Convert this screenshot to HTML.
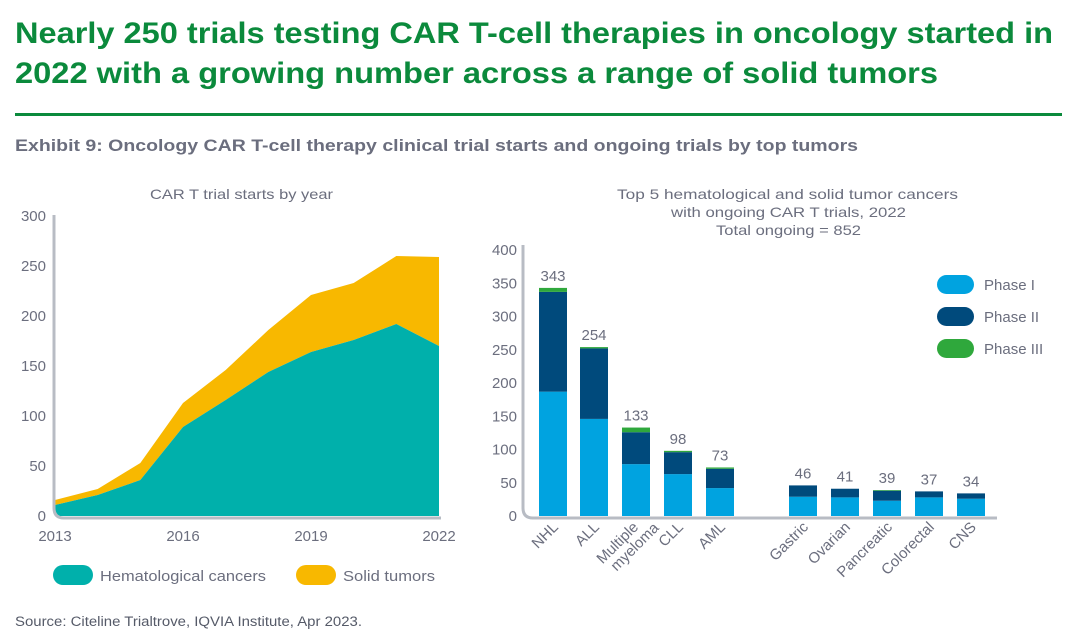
<!DOCTYPE html>
<html><head><meta charset="utf-8"><style>
html,body{margin:0;padding:0;background:#fff;}
svg{display:block;font-family:"Liberation Sans",sans-serif;}
</style></head><body>
<svg id="c" width="1080" height="635" viewBox="0 0 1080 635" xmlns="http://www.w3.org/2000/svg">
<text x="15" y="43" font-size="30" font-weight="bold" fill="#0b8a3c" textLength="1038" lengthAdjust="spacingAndGlyphs">Nearly 250 trials testing CAR T-cell therapies in oncology started in</text>
<text x="15" y="83" font-size="30" font-weight="bold" fill="#0b8a3c" textLength="923" lengthAdjust="spacingAndGlyphs">2022 with a growing number across a range of solid tumors</text>
<rect x="15" y="113" width="1047" height="3" fill="#0b8a3c"/>
<text x="15" y="151" font-size="16.5" font-weight="bold" fill="#6b6e7e" textLength="843" lengthAdjust="spacingAndGlyphs">Exhibit 9: Oncology CAR T-cell therapy clinical trial starts and ongoing trials by top tumors</text>
<text x="150" y="199" font-size="14" fill="#6b6e7e" textLength="183" lengthAdjust="spacingAndGlyphs">CAR T trial starts by year</text>
<text x="617" y="199" font-size="14" fill="#6b6e7e" textLength="341" lengthAdjust="spacingAndGlyphs">Top 5 hematological and solid tumor cancers</text>
<text x="671" y="217" font-size="14" fill="#6b6e7e" textLength="235" lengthAdjust="spacingAndGlyphs">with ongoing CAR T trials, 2022</text>
<text x="716" y="235" font-size="14" fill="#6b6e7e" textLength="145" lengthAdjust="spacingAndGlyphs">Total ongoing = 852</text>
<g id="left"></g>
<g id="right"></g>
<rect x="53" y="565" width="40" height="20" rx="10" fill="#00b0ab"/>
<text x="100" y="581" font-size="15" fill="#6b6e7e" textLength="166" lengthAdjust="spacingAndGlyphs">Hematological cancers</text>
<rect x="296" y="565" width="40" height="20" rx="10" fill="#f8b800"/>
<text x="343" y="581" font-size="15" fill="#6b6e7e" textLength="92" lengthAdjust="spacingAndGlyphs">Solid tumors</text>
<text x="15" y="626" font-size="13.5" fill="#555a68" textLength="347" lengthAdjust="spacingAndGlyphs">Source: Citeline Trialtrove, IQVIA Institute, Apr 2023.</text>
</svg>
<script>
const years = [2013,2014,2015,2016,2017,2018,2019,2020,2021,2022];
const hemaValues = [11,21,36,89,116,144,164,176,192,170];
const solidValues = [5,6,17,24,30,42,57,57,68,89];
const leftYTicks = [0,50,100,150,200,250,300];
const leftXTicks = [2013,2016,2019,2022];

const cats = ["NHL","ALL","Multiple|myeloma","CLL","AML","Gastric","Ovarian","Pancreatic","Colorectal","CNS"];
const phase1 = [187,146,78,63,42,29,28,23,28,26];
const phase2 = [150,106,48,33,29,17,13,15,9,8];
const phase3 = [6,2,7,2,2,0,0,1,0,0];
const totals = [343,254,133,98,73,46,41,39,37,34];
const rightYTicks = [0,50,100,150,200,250,300,350,400];

const NS="http://www.w3.org/2000/svg";
function mk(tag, attrs, parent, txt){const e=document.createElementNS(NS,tag);for(const k in attrs)e.setAttribute(k,attrs[k]);if(txt!==undefined)e.textContent=txt;parent.appendChild(e);return e;}
const G="#6b6e7e";

const L=document.getElementById('left');
const lx=y=>55+(y-2013)*(439-55)/9;
const ly=v=>516-v*(300/300);
let pTop="",pH="";
years.forEach((yr,i)=>{pTop+=(i?"L":"M")+lx(yr)+","+ly(hemaValues[i]+solidValues[i]);});
for(let i=years.length-1;i>=0;i--)pTop+="L"+lx(years[i])+","+ly(hemaValues[i]);
let a=mk('path',{d:pTop+"Z",fill:"#f8b800"},L);


years.forEach((yr,i)=>{pH+=(i?"L":"M")+lx(yr)+","+ly(hemaValues[i]);});
pH+="L"+lx(2022)+","+ly(0)+"L"+lx(2013)+","+ly(0)+"Z";
a=mk('path',{d:pH,fill:"#00b0ab"},L);


a=mk('path',{d:"M54,215 L54,508 Q54,518 64,518 L441,518",fill:"none",stroke:"#b8bcc4","stroke-width":3},L);


leftYTicks.forEach(t=>{const e=mk('text',{x:46,y:ly(t)+5,"font-size":15,fill:G,"text-anchor":"end"},L,t);

});
leftXTicks.forEach(t=>{const e=mk('text',{x:lx(t),y:541,"font-size":15,fill:G,"text-anchor":"middle"},L,t);

});

const R=document.getElementById('right');
const bx=[539,580,622,664,706,789,831,873,915,957];
const bw=28;
const ry=v=>516-v*(266/400);
rightYTicks.forEach(t=>{const e=mk('text',{x:517,y:ry(t)+5,"font-size":15,fill:G,"text-anchor":"end"},R,t);

});
cats.forEach((c,i)=>{
  const x=bx[i];
  const s=[[phase1[i],"#00a3e0","phase-1"],[phase2[i],"#004a7c","phase-2"],[phase3[i],"#2fa83c","phase-3"]];
  let base=0;
  s.forEach(([v,col,nm])=>{
    if(v>0){const r=mk('rect',{x:x,y:ry(base+v),width:bw,height:ry(base)-ry(base+v),fill:col},R);
    
    }
    base+=v;
  });
  const lab=mk('text',{x:x+bw/2,y:ry(totals[i])-7,"font-size":15,fill:G,"text-anchor":"middle"},R,totals[i]);
  
  
  const parts=c.split("|");
  const cx=x+bw/2+6, cy=528;
  const t=mk('text',{transform:"translate("+cx+","+cy+") rotate(-45)","font-size":15,fill:G,"text-anchor":"end"},R);
  
  
  parts.forEach((p,j)=>{mk('tspan',{x:(parts.length>1? (j===0?-2:12):0),dy:j===0?(parts.length>1?-2:0):15},t,p);});
});
a=mk('path',{d:"M523,245 L523,508 Q523,518 533,518 L997,518",fill:"none",stroke:"#b8bcc4","stroke-width":3},R);


const leg=[["Phase I","#00a3e0"],["Phase II","#004a7c"],["Phase III","#2fa83c"]];
leg.forEach(([n,c],i)=>{
  const y=275+i*32;
  const r=mk('rect',{x:937,y:y,width:37,height:19,rx:9.5,fill:c},R);
  
  
  const t=mk('text',{x:984,y:y+15,"font-size":15,fill:G},R,n);
  
  
});
</script>
</body></html>
